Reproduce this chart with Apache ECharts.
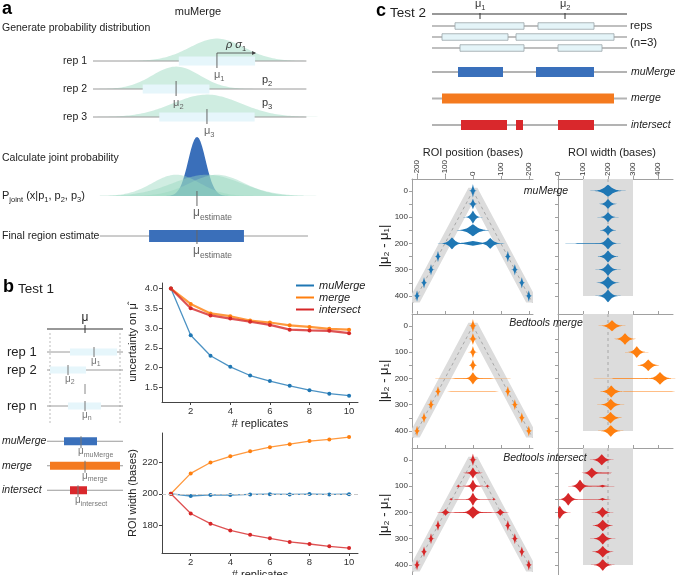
<!DOCTYPE html>
<html><head><meta charset="utf-8">
<script src="https://cdn.jsdelivr.net/npm/echarts@6/dist/echarts.min.js"></script>
<style>html,body{margin:0;padding:0;background:#fff}#c{width:685px;height:575px}</style>
</head><body><div id="c"></div>
<script>
// ================= DATA =================
// Panel a (schematic, genome units 0..100)
const aRepNames = ['rep 1', 'rep 2', 'rep 3'];
const aMu = [54.6, 36.6, 50.2];
const aSigma = [12, 10.5, 15];
const aSubs = ['1', '2', '3'];
const aRho = 1.4;
const aXRange = [0, 100];
const aLine = [0, 94];
const aJointMu = 45.8;
const aJointSigma = 3.8;
const aJointPeak = 1.0;
const aRepPeakInJoint = 0.36;
const aFinalBox = [24.7, 66.5];
const aFinalLine = [3, 94.7];
const aFinalName = ['Final region estimate'];

// Panel b schematic (bases relative to true mu)
const bTrueMu = 0;
const bRange = [-38, 38];
const bRepNames = ['rep 1', 'rep 2', '', 'rep n'];
const bRepMu = [9, -17, null, 0];
const bRepBox = [[-15, 32], [-35, 1], null, [-17, 16]];
const bRepSubs = ['1', '2', null, 'n'];
const bDotted = [-35, 35];
const bMethods = ['muMerge', 'merge', 'intersect'];
const bMethodBox = [[-21, 12], [-35, 35], [-15, 2]];
const bMethodMu = [-4, 0, -7];

// Panel b charts
const replicates = [1, 2, 3, 4, 5, 6, 7, 8, 9, 10];
const uncMuMerge = [4.0, 2.82, 2.30, 2.02, 1.80, 1.66, 1.54, 1.43, 1.34, 1.29];
const uncMerge = [4.0, 3.61, 3.37, 3.30, 3.19, 3.14, 3.07, 3.03, 2.98, 2.96];
const uncIntersect = [4.0, 3.50, 3.32, 3.24, 3.16, 3.08, 2.96, 2.94, 2.93, 2.87];
const widMuMerge = [200, 198.6, 199.3, 199.2, 199.6, 199.7, 199.6, 199.8, 199.6, 199.7];
const widMerge = [200, 212.9, 219.8, 223.7, 226.9, 229.5, 231.4, 233.4, 234.4, 235.9];
const widIntersect = [200, 187.5, 181.1, 176.8, 174.0, 171.8, 169.5, 168.2, 166.7, 165.6];
const repTicks = [2, 4, 6, 8, 10];
const uncTicks = [1.5, 2.0, 2.5, 3.0, 3.5, 4.0];
const widTicks = [180, 200, 220];

// Panel c schematic (units 0..195)
const cRange = [0, 195];
const cMu = [48, 133];
const cMuSubs = ['1', '2'];
const cRepBoxes = [[[23, 92], [106, 162]], [[10, 76], [84, 182]], [[28, 92], [126, 170]]];
const cMethods = ['muMerge', 'merge', 'intersect'];
const cMethodBoxes = [[[26, 71], [104, 162]], [[10, 182]], [[29, 75], [84, 91], [126, 162]]];

// Panel c violins: [distance |mu2-mu1|, centre, spread, half-height, shape]
const distances = [0, 50, 100, 150, 200, 250, 300, 350, 400];
const distLabels = [0, 100, 200, 300, 400];
const posTicks = [-200, -100, 0, 100, 200];
const widthTicks = [0, 100, 200, 300, 400];
const widthBand = [100, 300];
const widthTarget = 200;
const posMuMerge = [
  [0, 0, 3.9, 25], [50, 0, 5, 20], [100, 0, 9.5, 25], [150, 0, 20, 23],
  [200, -75, 14, 22], [200, 62, 14, 20], [200, 0, 30, 9],
  [250, -125, 3.5, 21], [250, 125, 3.5, 21], [300, -150, 3.5, 21], [300, 150, 3.5, 21],
  [350, -175, 3.5, 21], [350, 175, 3.5, 21], [400, -200, 3.5, 21], [400, 200, 3.5, 21]
];
const widthMuMerge = [
  [0, 200, 21, 23], [50, 200, 12, 19], [100, 200, 12, 19], [150, 200, 11, 19],
  [200, 200, 14, 23], [200, 124, 63, 1.5, 4],
  [250, 200, 14, 23], [300, 200, 14, 23], [350, 200, 15, 24], [400, 200, 15, 24]
];
const posMerge = [
  [0, 0, 4, 25], [50, 0, 4.5, 22], [100, 0, 4.5, 22], [150, 0, 4.8, 22],
  [200, 0, 10, 23], [200, 0, 92, 1.3, 4],
  [250, -125, 3.5, 20], [250, 125, 3.5, 20], [250, 0, 105, 0.8, 4],
  [300, -150, 3.5, 20], [300, 150, 3.5, 20], [350, -175, 3.5, 20], [350, 175, 3.5, 20],
  [400, -200, 3.5, 20], [400, 200, 3.5, 20]
];
const widthMerge = [
  [0, 216, 16, 21], [50, 268, 14, 22], [100, 315, 13, 22], [150, 361, 15, 22],
  [200, 408, 17, 24], [200, 290, 100, 1.2, 4],
  [250, 213, 15, 23], [250, 360, 125, 0.8, 4],
  [300, 211, 15, 22], [350, 210, 15, 22], [400, 211, 15, 22]
];
const posIntersect = [
  [0, 0, 4, 23],
  [50, 0, 8, 21], [50, 0, 30, 1.5, 4],
  [100, 0, 8, 24], [100, -52, 3, 6], [100, 52, 3, 6], [100, 0, 46, 1.2, 4],
  [150, 0, 8.5, 25], [150, -78, 3, 5], [150, 75, 3, 5], [150, 0, 70, 1.2, 4],
  [200, 0, 14, 24], [200, -98, 7, 13], [200, 98, 7, 13], [200, 0, 85, 1.5, 4],
  [250, -125, 3.5, 20], [250, 125, 3.5, 20], [300, -150, 3.5, 20], [300, 150, 3.5, 20],
  [350, -175, 3.5, 20], [350, 175, 3.5, 20], [400, -200, 3.5, 20], [400, 200, 3.5, 20]
];
const widthIntersect = [
  [0, 175, 14, 21],
  [50, 135, 13, 20], [50, 185, 25, 2, 4],
  [100, 88, 13, 24], [100, 178, 8, 5], [100, 150, 60, 1.2, 4],
  [150, 41, 13, 24], [150, 178, 8, 5], [150, 120, 90, 1.2, 4],
  [200, 7, 12, 25], [200, 178, 12, 20],
  [250, 179, 14, 22], [300, 179, 14, 22], [350, 179, 14, 22], [400, 179, 14, 22]
];

// ================= STYLE =================
const FONT = '"Liberation Sans", Arial, "DejaVu Sans", sans-serif';
const BLUE = '#1f77b4', ORANGE = '#ff7f0e', RED = '#d62728';
const S_BLUE = '#3a70bb', S_ORANGE = '#f47a1f', S_RED = '#d9282c';
const GREEN = 'rgba(160,220,195,0.5)';
const PALE = '#e6f6fb';
const LGRAY = '#9a9a9a';

function richSub(fs, ss, col, italic) {
  const mc = (fs + 1) / 2;
  const drop = Math.round(mc + 0.33 * fs - ss / 2);
  return {
    m: { fontSize: fs, fontFamily: FONT, fill: col, color: col, lineHeight: fs + 1, verticalAlign: 'top', fontStyle: italic ? 'italic' : 'normal' },
    s: { fontSize: ss, fontFamily: FONT, fill: col, color: col, lineHeight: ss, verticalAlign: 'top', padding: [drop, 0, 0, 0] }
  };
}
function subText(x, y, base, sub, o) {
  o = o || {};
  const fs = o.fs || 12, ss = o.ss || 8, col = o.color || '#666';
  return { type: 'text', x: x, y: y, silent: true, style: {
    text: '{m|' + base + '}{s|' + sub + '}', align: o.align || 'left', verticalAlign: o.va || 'top',
    rich: richSub(fs, ss, col, o.italic) } };
}
function lineEl(x1, y1, x2, y2, stroke, w, dash) {
  return { type: 'line', silent: true, shape: { x1, y1, x2, y2 }, style: { stroke, lineWidth: w || 1, lineDash: dash || null } };
}
function rectEl(x0, x1, yc, h, fill, stroke) {
  return { type: 'rect', silent: true, shape: { x: Math.min(x0, x1), y: yc - h / 2, width: Math.abs(x1 - x0), height: h },
    style: { fill, stroke: stroke || null, lineWidth: stroke ? 0.8 : 0 } };
}

const grids = [], xAxes = [], yAxes = [], series = [];
function addGrid(g, x, y) {
  g.outerBoundsMode = 'none'; g.containLabel = false;
  grids.push(g); const gi = grids.length - 1;
  x.gridIndex = gi; y.gridIndex = gi; xAxes.push(x); yAxes.push(y); return gi;
}
function hiddenX(min, max) { return { type: 'value', min, max, show: false, axisLine: { onZero: false } }; }
function catY(data, label, pos) {
  return { type: 'category', data, inverse: true, position: pos || 'left', boundaryGap: true,
    axisLine: { show: false }, axisTick: { show: false }, splitLine: { show: false },
    axisLabel: label ? Object.assign({ show: true, fontFamily: FONT, color: '#222' }, label) : { show: false } };
}
function custom(gi, data, renderItem, extra) {
  series.push(Object.assign({ type: 'custom', coordinateSystem: 'cartesian2d', xAxisIndex: gi, yAxisIndex: gi,
    data, encode: { x: 0, y: 1 }, renderItem, silent: true, animation: false }, extra || {}));
}

// ================= PANEL A =================
const gA = addGrid({ left: 93, top: 47, width: 227, height: 84 }, hiddenX(aXRange[0], aXRange[1]),
  catY(aRepNames, { fontSize: 10.5, margin: 6 }));
const aData = aMu.map((m, i) => [m, i]);
custom(gA, aData, function (params, api) {
  const i = params.dataIndex, mu = aMu[i], sg = aSigma[i];
  const y = api.coord([mu, i])[1];
  const gap = Math.abs(api.coord([mu, 1])[1] - api.coord([mu, 0])[1]);
  const peak = gap * 0.8;
  const pts = [], N = 120;
  for (let k = 0; k <= N; k++) {
    const x = aXRange[0] + (aXRange[1] - aXRange[0]) * k / N;
    pts.push([api.coord([x, i])[0], y - peak * Math.exp(-0.5 * Math.pow((x - mu) / sg, 2))]);
  }
  pts.push([api.coord([aXRange[1], i])[0], y]); pts.push([api.coord([aXRange[0], i])[0], y]);
  return { type: 'polygon', shape: { points: pts }, style: { fill: GREEN } };
}, { z: 1 });
custom(gA, aData, function (params, api) {
  const i = params.dataIndex, mu = aMu[i], sg = aSigma[i];
  const c = api.coord([mu, i]), y = c[1];
  const ch = [];
  ch.push(lineEl(api.coord([aLine[0], i])[0], y, api.coord([aLine[1], i])[0], y, LGRAY, 1));
  ch.push(rectEl(api.coord([mu - aRho * sg, i])[0], api.coord([mu + aRho * sg, i])[0], y, 9, PALE));
  ch.push(lineEl(c[0], y - 8, c[0], y + 7, '#666', 1));
  if (i === 0) {
    const xe = api.coord([mu + aRho * sg, i])[0];
    ch.push(lineEl(c[0], y - 8, xe, y - 8, '#444', 0.8));
    ch.push({ type: 'polygon', shape: { points: [[xe + 1, y - 8], [xe - 3, y - 10], [xe - 3, y - 6]] }, style: { fill: '#444' } });
    ch.push(subText((c[0] + xe) / 2, y - 22, 'ρ σ', '1', { fs: 11, ss: 7.5, color: '#333', italic: true, align: 'center' }));
  }
  ch.push(subText(c[0] - 3, y + 8, 'μ', aSubs[i], { fs: 11, ss: 7.5 }));
  return { type: 'group', children: ch };
}, { z: 2 });

const gAJ = addGrid({ left: 93, top: 131, width: 227, height: 65 }, hiddenX(aXRange[0], aXRange[1]),
  { type: 'value', min: 0, max: 1.1, show: false, axisLine: { onZero: false } });
custom(gAJ, [[aJointMu, 0]], function (params, api) {
  const ch = [];
  function gpoly(mu, sg, amp, fill) {
    const pts = [], N = 140, x0 = aFinalLine[0], x1 = aXRange[1];
    for (let k = 0; k <= N; k++) { const x = x0 + (x1 - x0) * k / N; pts.push(api.coord([x, amp * Math.exp(-0.5 * Math.pow((x - mu) / sg, 2))])); }
    pts.push(api.coord([x1, 0])); pts.push(api.coord([x0, 0]));
    return { type: 'polygon', shape: { points: pts }, style: { fill } };
  }
  ch.push(gpoly(aJointMu, aJointSigma, aJointPeak, '#3a6fba'));
  for (let i = 0; i < aMu.length; i++) ch.push(gpoly(aMu[i], aSigma[i], aRepPeakInJoint, 'rgba(150,215,190,0.45)'));
  const b = api.coord([aJointMu, 0]);
  ch.push(lineEl(b[0], b[1] - 5, b[0], b[1] + 10, '#666', 1));
  ch.push(subText(b[0] - 4, b[1] + 11, 'μ', 'estimate', { fs: 12, ss: 8.5 }));
  return { type: 'group', children: ch };
});

const gAF = addGrid({ left: 93, top: 226, width: 227, height: 20 }, hiddenX(aXRange[0], aXRange[1]),
  catY(aFinalName, { fontSize: 10.5, margin: 91, align: 'left' }));
custom(gAF, [[aJointMu, 0]], function (params, api) {
  const c = api.coord([aJointMu, 0]), y = c[1];
  return { type: 'group', children: [
    lineEl(api.coord([aFinalLine[0], 0])[0], y, api.coord([aFinalLine[1], 0])[0], y, LGRAY, 1),
    rectEl(api.coord([aFinalBox[0], 0])[0], api.coord([aFinalBox[1], 0])[0], y, 12, '#3a6fba'),
    lineEl(c[0], y - 6, c[0], y + 8, '#666', 1),
    subText(c[0] - 4, y + 9, 'μ', 'estimate', { fs: 12, ss: 8.5 })
  ] };
});

// ================= PANEL B schematic =================
const gBM = addGrid({ left: 47, top: 322, width: 76, height: 14 }, hiddenX(bRange[0], bRange[1]), catY(['μ']));
custom(gBM, [[bTrueMu, 0]], function (params, api) {
  const c = api.coord([bTrueMu, 0]);
  return { type: 'group', children: [
    lineEl(api.coord([bRange[0], 0])[0], c[1], api.coord([bRange[1], 0])[0], c[1], '#333', 1.2),
    lineEl(c[0], c[1] - 4, c[0], c[1] + 4, '#333', 1),
    { type: 'text', x: c[0], y: c[1] - 5, style: { text: 'μ', fontSize: 12, fontFamily: FONT, fill: '#222', align: 'center', verticalAlign: 'bottom' } }
  ] };
});
const gBR = addGrid({ left: 47, top: 343, width: 76, height: 72 }, hiddenX(bRange[0], bRange[1]),
  catY(bRepNames, { fontSize: 13, margin: 40, align: 'left' }));
custom(gBR, bRepNames.map((n, i) => [bRepMu[i] == null ? bTrueMu : bRepMu[i], i]), function (params, api) {
  const i = params.dataIndex, ch = [];
  const y = api.coord([0, i])[1];
  if (i === 0) {
    const yb = api.coord([0, bRepNames.length - 1])[1];
    bDotted.forEach(v => { const x = api.coord([v, 0])[0]; ch.push(lineEl(x, y - 19, x, yb + 17, '#aaa', 0.8, [2, 2])); });
  }
  if (bRepMu[i] == null) {
    const x = api.coord([bTrueMu, i])[0];
    ch.push(lineEl(x, y - 4, x, y + 6, '#888', 1));
    return { type: 'group', children: ch };
  }
  ch.push(lineEl(api.coord([bRange[0], i])[0], y, api.coord([bRange[1], i])[0], y, LGRAY, 1));
  ch.push(rectEl(api.coord([bRepBox[i][0], i])[0], api.coord([bRepBox[i][1], i])[0], y, 7, PALE));
  const x = api.coord([bRepMu[i], i])[0];
  ch.push(lineEl(x, y - 5, x, y + 5, '#777', 1));
  ch.push(subText(x - 3, y + 4, 'μ', bRepSubs[i], { fs: 10, ss: 7, color: '#777' }));
  return { type: 'group', children: ch };
});
const gBX = addGrid({ left: 47, top: 429, width: 76, height: 73.5 }, hiddenX(bRange[0], bRange[1]),
  catY(bMethods, { fontSize: 10.5, margin: 45, align: 'left', fontStyle: 'italic' }));
const bCols = [S_BLUE, S_ORANGE, S_RED];
custom(gBX, bMethodMu.map((m, i) => [m, i]), function (params, api) {
  const i = params.dataIndex;
  const y = api.coord([0, i])[1];
  const x = api.coord([bMethodMu[i], i])[0];
  return { type: 'group', children: [
    lineEl(api.coord([bRange[0], i])[0], y, api.coord([bRange[1], i])[0], y, LGRAY, 1),
    rectEl(api.coord([bMethodBox[i][0], i])[0], api.coord([bMethodBox[i][1], i])[0], y, 8, bCols[i]),
    lineEl(x, y - 5, x, y + 7, '#777', 1),
    subText(x - 3, y + 5, 'μ', bMethods[i], { fs: 10, ss: 7, color: '#777' })
  ] };
});

// ================= PANEL B charts =================
function bX(showName) {
  return { type: 'value', min: 0.55, max: 10.45, axisLine: { show: true, onZero: false, lineStyle: { color: '#444', width: 1 } },
    axisTick: { show: true, customValues: repTicks, length: 3, lineStyle: { color: '#444' } },
    axisLabel: { show: true, customValues: repTicks, fontSize: 9.5, color: '#333', margin: 4, fontFamily: FONT },
    splitLine: { show: false }, name: '# replicates', nameLocation: 'middle', nameGap: 16,
    nameTextStyle: { fontSize: 11, color: '#222', fontFamily: FONT } };
}
function bY(min, max, ticks, name, dec) {
  return { type: 'value', min, max, axisLine: { show: true, onZero: false, lineStyle: { color: '#444', width: 1 } },
    axisTick: { show: true, customValues: ticks, length: 3, lineStyle: { color: '#444' } },
    axisLabel: { show: true, customValues: ticks, fontSize: 9.5, color: '#333', margin: 4, fontFamily: FONT,
      formatter: v => dec ? Number(v).toFixed(1) : String(Math.round(v)) },
    splitLine: { show: false }, name, nameLocation: 'middle', nameGap: 24, nameRotate: 90,
    nameTextStyle: { fontSize: 11, color: '#222', fontFamily: FONT } };
}
const gB1 = addGrid({ left: 162, top: 283, width: 196, height: 119 }, bX(), bY(1.13, 4.14, uncTicks, 'uncertainty on μ̂', true));
const gB2 = addGrid({ left: 162, top: 433, width: 196, height: 120 }, bX(), bY(162.5, 238.5, widTicks, 'ROI width (bases)', false));
function lineSeries(gi, name, vals, color, w, extra) {
  series.push(Object.assign({ type: 'line', name, xAxisIndex: gi, yAxisIndex: gi,
    data: replicates.map((r, i) => [r, vals[i]]), symbol: 'circle', symbolSize: 4, showSymbol: true,
    itemStyle: { color }, lineStyle: { color, width: w, opacity: 0.8 }, animation: false, silent: true }, extra || {}));
}
lineSeries(gB1, 'muMerge', uncMuMerge, BLUE, 1.3);
lineSeries(gB1, 'merge', uncMerge, ORANGE, 2.2);
lineSeries(gB1, 'intersect', uncIntersect, RED, 2.2);
lineSeries(gB2, 'muMerge', widMuMerge, BLUE, 1.3, { markLine: { silent: true, symbol: 'none', label: { show: false },
  lineStyle: { color: '#c8c8c8', type: 'dashed', width: 1 }, data: [{ yAxis: widthTarget }] } });
lineSeries(gB2, 'merge', widMerge, ORANGE, 1.3);
lineSeries(gB2, 'intersect', widIntersect, RED, 1.3);

// ================= PANEL C schematic =================
const gCM = addGrid({ left: 432, top: 8, width: 195, height: 12 }, hiddenX(cRange[0], cRange[1]), catY(['μ']));
custom(gCM, cMu.map(m => [m, 0]), function (params, api) {
  const ch = [];
  const y = api.coord([0, 0])[1];
  if (params.dataIndex === 0) ch.push(lineEl(api.coord([cRange[0], 0])[0], y, api.coord([cRange[1], 0])[0], y, '#333', 1.2));
  const x = api.coord([cMu[params.dataIndex], 0])[0];
  ch.push(lineEl(x, y - 1, x, y + 5, '#333', 1));
  ch.push(subText(x - 5, y - 16, 'μ', cMuSubs[params.dataIndex], { fs: 11, ss: 7.5, color: '#333' }));
  return { type: 'group', children: ch };
});
const gCR = addGrid({ left: 432, top: 20.5, width: 195, height: 33 }, hiddenX(cRange[0], cRange[1]), catY(['r1', 'r2', 'r3']));
custom(gCR, cRepBoxes.map((b, i) => [b[0][0], i]), function (params, api) {
  const i = params.dataIndex, y = api.coord([0, i])[1];
  const ch = [lineEl(api.coord([cRange[0], i])[0], y, api.coord([cRange[1], i])[0], y, '#aaa', 1.5)];
  cRepBoxes[i].forEach(b => ch.push(rectEl(api.coord([b[0], i])[0], api.coord([b[1], i])[0], y, 6.5, '#e4f4f8', '#9aa4a8')));
  return { type: 'group', children: ch };
});
const gCX = addGrid({ left: 432, top: 58.75, width: 195, height: 79.5 }, hiddenX(cRange[0], cRange[1]),
  catY(cMethods, { fontSize: 10.5, margin: 4, fontStyle: 'italic' }, 'right'));
custom(gCX, cMethodBoxes.map((b, i) => [b[0][0], i]), function (params, api) {
  const i = params.dataIndex, y = api.coord([0, i])[1];
  const ch = [lineEl(api.coord([cRange[0], i])[0], y, api.coord([cRange[1], i])[0], y, '#b3b3b3', 2)];
  cMethodBoxes[i].forEach(b => ch.push(rectEl(api.coord([b[0], i])[0], api.coord([b[1], i])[0], y, 10, bCols[i])));
  return { type: 'group', children: ch };
});

// ================= PANEL C violins =================
const vYMin = -45, vYMax = 465;
function vX(isPos, labels) {
  const vals = isPos ? posTicks : widthTicks;
  return { type: 'value', min: isPos ? -218 : 0, max: isPos ? 215 : 460, position: 'top',
    axisLine: { show: true, onZero: false, lineStyle: { color: '#a0a0a0', width: 1 } },
    axisTick: { show: true, customValues: vals, length: 3, lineStyle: { color: '#a0a0a0' } },
    axisLabel: { show: labels, customValues: vals, rotate: -90, fontSize: 8, color: '#333', margin: 3, fontFamily: FONT },
    splitLine: { show: false } };
}
function vY(isPos) {
  return { type: 'value', inverse: true, min: vYMin, max: vYMax,
    axisLine: { show: true, onZero: false, lineStyle: { color: '#a0a0a0', width: 1 } },
    axisTick: { show: true, customValues: distances, length: 3, lineStyle: { color: '#a0a0a0' } },
    axisLabel: { show: isPos, customValues: distLabels, fontSize: 8, color: '#333', margin: 4, fontFamily: FONT },
    splitLine: { show: false },
    name: isPos ? '|μ₂ - μ₁|' : '', nameLocation: 'middle', nameGap: 20, nameRotate: 90,
    nameTextStyle: { fontSize: 13, color: '#222', fontFamily: FONT } };
}
function violinPoly(api, comp, color) {
  const d = comp[0], c = comp[1], s = comp[2], a = comp[3], p = comp[4] || 1.3;
  const U = p >= 3 ? 1.5 : 3.6, N = 44, top = [], bot = [];
  for (let k = 0; k <= N; k++) {
    const u = -U + 2 * U * k / N;
    const f = Math.exp(-Math.pow(Math.abs(u), p));
    top.push(api.coord([c + u * s, d - a * f]));
    bot.push(api.coord([c + u * s, d + a * f]));
  }
  return { type: 'polygon', shape: { points: top.concat(bot.reverse()) }, style: { fill: color } };
}
function armBand(params, api) {
  const hw = 22, dTop = -12, dEnd = 425;
  const P = (x, y) => api.coord([x, y]);
  const xo = dTop / 2 + hw;
  const pts = [P(-(dEnd / 2 + hw), dEnd), P(-xo, dTop), P(xo, dTop), P(dEnd / 2 + hw, dEnd),
    P(dEnd / 2 - hw, dEnd), P(0, 2 * hw), P(-(dEnd / 2 - hw), dEnd)];
  const o = P(0, distances[0]), l = P(-dEnd / 2, dEnd), r = P(dEnd / 2, dEnd);
  return { type: 'group', children: [
    { type: 'polygon', shape: { points: pts }, style: { fill: '#dcdcdc' } },
    lineEl(o[0], o[1], l[0], l[1], '#999', 0.8, [3, 3]),
    lineEl(o[0], o[1], r[0], r[1], '#999', 0.8, [3, 3])
  ] };
}
function widthBg(params, api) {
  const a = api.coord([widthBand[0], vYMin]), b = api.coord([widthBand[1], distances[distances.length - 1]]);
  const t0 = api.coord([widthTarget, vYMin]), t1 = api.coord([widthTarget, distances[distances.length - 1]]);
  return { type: 'group', children: [
    { type: 'rect', shape: { x: a[0], y: a[1], width: b[0] - a[0], height: b[1] - a[1] }, style: { fill: '#dcdcdc' } },
    lineEl(t0[0], t0[1], t1[0], t1[1], '#999', 0.8, [3, 3])
  ] };
}
const vTops = [179, 314, 448];
const vSets = [[posMuMerge, widthMuMerge, BLUE], [posMerge, widthMerge, ORANGE], [posIntersect, widthIntersect, RED]];
vSets.forEach((set, r) => {
  const gL = addGrid({ left: 412, top: vTops[r], width: 121, height: 134 }, vX(true, r === 0), vY(true));
  const gR = addGrid({ left: 558, top: vTops[r], width: 115, height: 134 }, vX(false, r === 0), vY(false));
  custom(gL, [[0, 0]], armBand, { clip: true, z: 1 });
  custom(gR, [[widthTarget, 0]], widthBg, { clip: true, z: 1 });
  const pc = set[0], wc = set[1], col = set[2];
  custom(gL, pc.map(c => [c[1], c[0]]), (params, api) => violinPoly(api, pc[params.dataIndex], col), { clip: true, z: 2 });
  custom(gR, wc.map(c => [c[1], c[0]]), (params, api) => violinPoly(api, wc[params.dataIndex], col), { clip: r !== 1, z: 2 });
});

// ================= TEXT =================
function T(text, x, y, o) {
  return { type: 'text', x, y, z: 100, silent: true, style: Object.assign({ text, fontFamily: FONT, fontSize: 11, fill: '#222', align: 'left', verticalAlign: 'middle' }, o || {}) };
}
const pj = richSub(11, 7.5, '#222', false);
const graphics = [
  T('a', 2, 9, { fontSize: 18, fontWeight: 'bold', fill: '#000' }),
  T('muMerge', 198, 12, { align: 'center' }),
  T('Generate probability distribution', 2, 28, { fontSize: 10.5 }),
  T('Calculate joint probability', 2, 158, { fontSize: 10.5 }),
  { type: 'text', x: 2, y: 190, z: 100, silent: true, style: { text: '{m|P}{s|joint}{m| (x|p}{s|1}{m|, p}{s|2}{m|, p}{s|3}{m|)}', rich: pj, align: 'left', verticalAlign: 'top' } },
  { type: 'text', x: 262, y: 74, z: 100, silent: true, style: { text: '{m|p}{s|2}', rich: richSub(11, 7.5, '#333'), align: 'left', verticalAlign: 'top' } },
  { type: 'text', x: 262, y: 97, z: 100, silent: true, style: { text: '{m|p}{s|3}', rich: richSub(11, 7.5, '#333'), align: 'left', verticalAlign: 'top' } },
  T('b', 3, 287, { fontSize: 18, fontWeight: 'bold', fill: '#000' }),
  T('Test 1', 18, 289, { fontSize: 13.5 }),
  T('c', 376, 11, { fontSize: 18, fontWeight: 'bold', fill: '#000' }),
  T('Test 2', 390, 13, { fontSize: 13.5 }),
  T('reps', 630, 26, { fontSize: 11.5 }),
  T('(n=3)', 630, 43, { fontSize: 11.5 }),
  T('ROI position (bases)', 473, 153, { align: 'center' }),
  T('ROI width (bases)', 612, 153, { align: 'center' }),
  T('muMerge', 546, 191, { align: 'center', fontStyle: 'italic', fontSize: 10.5 }),
  T('Bedtools merge', 546, 323, { align: 'center', fontStyle: 'italic', fontSize: 10.5 }),
  T('Bedtools intersect', 545, 458, { align: 'center', fontStyle: 'italic', fontSize: 10.5 })
];

const chart = echarts.init(document.getElementById('c'), null, { renderer: 'canvas', width: 685, height: 575 });
chart.setOption({
  backgroundColor: '#fff',
  animation: false,
  textStyle: { fontFamily: FONT },
  grid: grids, xAxis: xAxes, yAxis: yAxes, series,
  legend: { data: ['muMerge', 'merge', 'intersect'], orient: 'vertical', left: 291, top: 275, itemWidth: 18, itemHeight: 2,
    itemGap: 1, icon: 'rect', selectedMode: false, textStyle: { fontSize: 11, fontStyle: 'italic', color: '#222', fontFamily: FONT } },
  graphic: graphics
});
</script></body></html>
